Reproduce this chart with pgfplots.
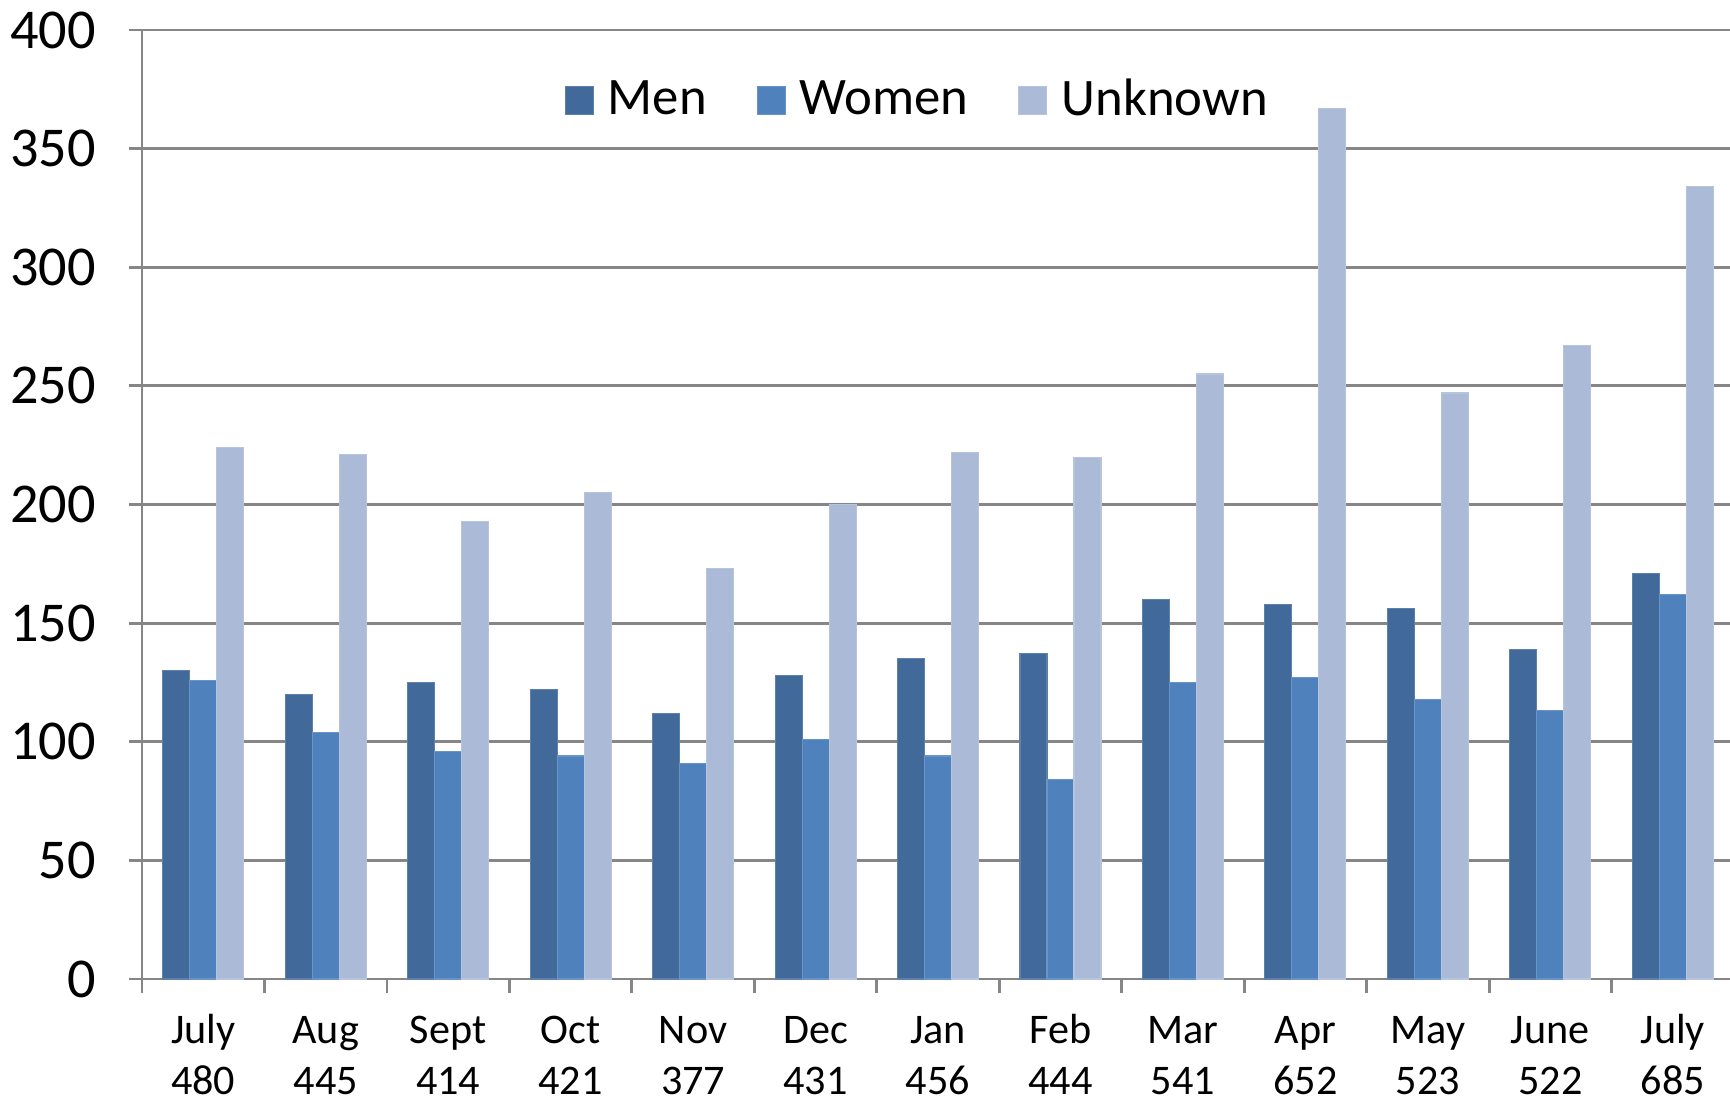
\documentclass[border=0pt]{standalone}
\usepackage{pgfplots}
\pgfplotsset{compat=1.18}
\usepackage{fontspec}
\setmainfont{Carlito}
\definecolor{menc}{RGB}{65,106,155}
\definecolor{womc}{RGB}{79,129,189}
\definecolor{unkc}{RGB}{170,186,215}
\definecolor{gridc}{RGB}{134,134,134}
\begin{document}
\begin{tikzpicture}
\begin{axis}[
  at={(0,0)}, anchor=south west,
  scale only axis, width=15.92cm, height=9.49cm,
  ybar=0pt, bar width=0.27cm,
  xmin=-0.5, xmax=12.5, ymin=0, ymax=400,
  xtick={0,...,12},
  xticklabels={{July\strut\\480\strut},{Aug\strut\\445\strut},{Sept\strut\\414\strut},{Oct\strut\\421\strut},{Nov\strut\\377\strut},{Dec\strut\\431\strut},{Jan\strut\\456\strut},{Feb\strut\\444\strut},{Mar\strut\\541\strut},{Apr\strut\\652\strut},{May\strut\\523\strut},{June\strut\\522\strut},{July\strut\\685\strut}},
  minor xtick={-0.5,0.5,...,12.5},
  ytick={0,50,...,400},
  ymajorgrids, grid style={gridc, line width=0.8pt},
  axis x line*=bottom, axis y line*=left,
  axis line style={gridc, line width=0.8pt, -},
  tick align=outside,
  major x tick style={draw=none},
  minor x tick style={gridc, line width=0.8pt},
  minor tick length=0.14cm,
  major tick length=0.13cm,
  ytick style={gridc, line width=0.8pt},
  yticklabel style={font=\fontsize{16}{19}\selectfont, xshift=-0.21cm},
  xticklabel style={font=\fontsize{12}{14.4}\selectfont, align=center, anchor=north, yshift=-0.04cm},
  /pgf/number format/assume math mode=true,
  legend columns=3,
  legend style={draw=none, fill=none, at={(0.4885,0.926)}, anchor=center,
    font=\fontsize{15}{18}\selectfont,
    nodes={inner xsep=2pt},
    /tikz/every even column/.append style={column sep=0.43cm},
    /tikz/every odd column/.append style={column sep=0.07cm}},
  legend image code/.code={\path[#1] (0cm,-0.14cm) rectangle (0.28cm,0.14cm);},
]
\addplot[fill=menc, draw=menc!85!white, line width=0.3pt] coordinates {(0,130) (1,120) (2,125) (3,122) (4,112) (5,128) (6,135) (7,137) (8,160) (9,158) (10,156) (11,139) (12,171)};
\addplot[fill=womc, draw=womc!85!white, line width=0.3pt] coordinates {(0,126) (1,104) (2,96) (3,94) (4,91) (5,101) (6,94) (7,84) (8,125) (9,127) (10,118) (11,113) (12,162)};
\addplot[fill=unkc, draw=unkc!85!white, line width=0.3pt] coordinates {(0,224) (1,221) (2,193) (3,205) (4,173) (5,200) (6,222) (7,220) (8,255) (9,367) (10,247) (11,267) (12,334)};
\legend{Men, Women, Unknown}
\end{axis}
\pgfresetboundingbox
\useasboundingbox (-1.42cm,-1.21cm) rectangle (15.88cm,9.79cm);
\end{tikzpicture}
\end{document}
